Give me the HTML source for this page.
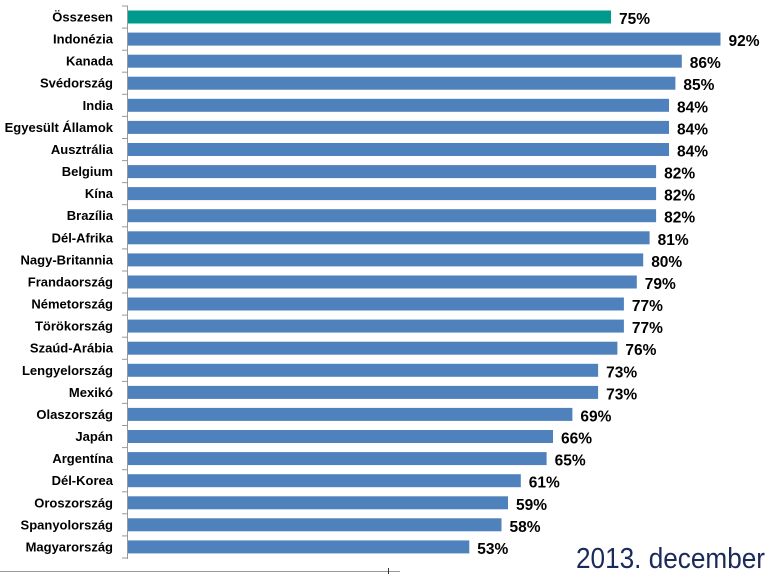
<!DOCTYPE html>
<html><head><meta charset="utf-8"><style>
html,body{margin:0;padding:0;background:#fff;width:771px;height:574px;overflow:hidden}
svg text{font-family:"Liberation Sans",sans-serif;font-weight:bold;fill:#000}
</style></head><body>
<svg width="771" height="574" xmlns="http://www.w3.org/2000/svg">
<g id="c"></g>
<line x1="127.5" y1="6" x2="127.5" y2="559" stroke="#9a9a9a" stroke-width="1"/>
<line x1="0" y1="571.5" x2="400" y2="571.5" stroke="#9a9a9a" stroke-width="1"/>
<line x1="388.5" y1="568" x2="388.5" y2="574" stroke="#333" stroke-width="1"/>
<text x="576" y="568" style="font-weight:normal;font-size:29px;fill:#1a2a5a" textLength="189" lengthAdjust="spacingAndGlyphs">2013. december</text>
</svg>
<script>
var d=[["Összesen",75],["Indonézia",92],["Kanada",86],["Svédország",85],["India",84],["Egyesült Államok",84],["Ausztrália",84],["Belgium",82],["Kína",82],["Brazília",82],["Dél-Afrika",81],["Nagy-Britannia",80],["Frandaország",79],["Németország",77],["Törökország",77],["Szaúd-Arábia",76],["Lengyelország",73],["Mexikó",73],["Olaszország",69],["Japán",66],["Argentína",65],["Dél-Korea",61],["Oroszország",59],["Spanyolország",58],["Magyarország",53]];
var s="";
d.forEach(function(r,i){
 var y=10.5+i*22.08, w=r[1]*6.44, c=i==0?"#009a8c":"#4f81bd";
 s+='<rect x="128" y="'+y.toFixed(1)+'" width="'+w.toFixed(1)+'" height="13" fill="'+c+'"/>';
 s+='<text x="113" y="'+(y+11).toFixed(1)+'" text-anchor="end" font-size="13">'+r[0]+'</text>';
 s+='<text x="'+(128+w+8).toFixed(1)+'" y="'+(y+13.5).toFixed(1)+'" font-size="15.5">'+r[1]+'%</text>';
 var ty=y-4.5;
 s+='<line x1="122" y1="'+ty.toFixed(1)+'" x2="128" y2="'+ty.toFixed(1)+'" stroke="#9a9a9a"/>';
});
s+='<line x1="122" y1="'+(10.5+25*22.08-4.5).toFixed(1)+'" x2="128" y2="'+(10.5+25*22.08-4.5).toFixed(1)+'" stroke="#9a9a9a"/>';
document.getElementById("c").innerHTML=s;
</script>
</body></html>
